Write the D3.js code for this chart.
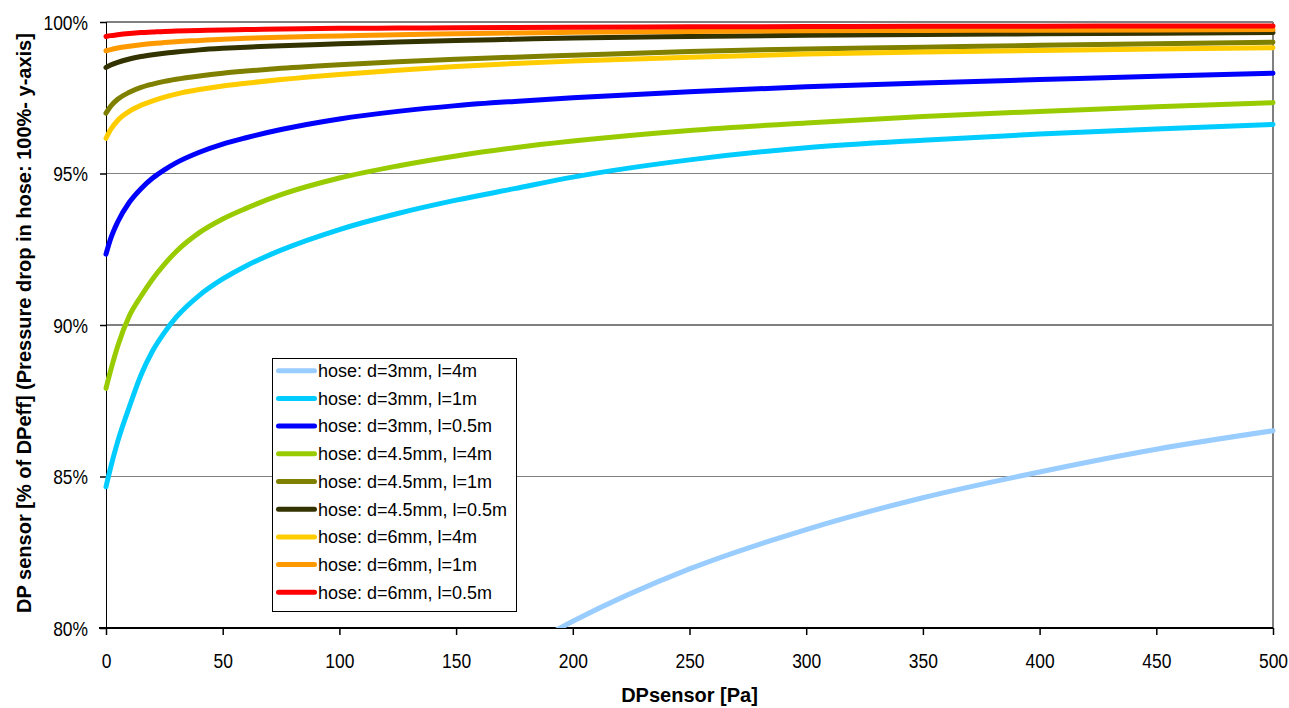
<!DOCTYPE html>
<html>
<head>
<meta charset="utf-8">
<script src="https://cdn.jsdelivr.net/npm/d3@7"></script>
<style>
	body { margin: 0; background: #fff; }
	svg text { font-family: "Liberation Sans", Arial, sans-serif; fill: #000; }
</style>
</head>
<body>
<div id="chart"></div>
<script>
// x values of the sampled points (DPsensor in Pa)
var xValues = [0, 2, 5, 10, 15, 20, 25, 30, 40, 50, 60, 75, 100, 125, 150, 175, 200, 250, 300, 350, 400, 450, 500];

var seriesNames = [
	"hose: d=3mm, l=4m",
	"hose: d=3mm, l=1m",
	"hose: d=3mm, l=0.5m",
	"hose: d=4.5mm, l=4m",
	"hose: d=4.5mm, l=1m",
	"hose: d=4.5mm, l=0.5m",
	"hose: d=6mm, l=4m",
	"hose: d=6mm, l=1m",
	"hose: d=6mm, l=0.5m"
];
var seriesColors = ["#99ccff", "#00ccff", "#0000ff", "#99cc00", "#808000", "#333300", "#ffcc00", "#ff9900", "#ff0000"];

// % of DPeff, one list per hose (null = off the chart, below 80%)
var d3mm4m   = [null, null, null, null, null, null, null, null, null, null, null, null, null, null, 78.0, 79.15, 80.22, 81.95, 83.25, 84.3, 85.15, 85.9, 86.51];
var d3mm1m   = [84.66, 85.3, 86.15, 87.3, 88.35, 89.15, 89.75, 90.25, 90.98, 91.52, 91.95, 92.47, 93.15, 93.68, 94.12, 94.5, 94.88, 95.45, 95.85, 96.1, 96.3, 96.47, 96.62];
var d3mm05m  = [92.34, 92.85, 93.4, 94.05, 94.5, 94.85, 95.12, 95.35, 95.7, 95.97, 96.18, 96.45, 96.8, 97.05, 97.24, 97.38, 97.5, 97.7, 97.86, 97.99, 98.1, 98.21, 98.31];
var d45mm4m  = [87.91, 88.5, 89.3, 90.3, 90.95, 91.52, 92.0, 92.42, 93.05, 93.5, 93.85, 94.3, 94.85, 95.25, 95.58, 95.85, 96.07, 96.42, 96.67, 96.88, 97.05, 97.2, 97.34];
var d45mm1m  = [96.99, 97.22, 97.45, 97.68, 97.84, 97.95, 98.04, 98.11, 98.22, 98.31, 98.38, 98.47, 98.59, 98.69, 98.77, 98.84, 98.9, 99.03, 99.11, 99.17, 99.23, 99.28, 99.33];
var d45mm05m = [98.5, 98.58, 98.67, 98.78, 98.86, 98.92, 98.97, 99.01, 99.08, 99.13, 99.17, 99.22, 99.28, 99.34, 99.39, 99.43, 99.47, 99.52, 99.56, 99.59, 99.61, 99.63, 99.65];
var d6mm4m   = [96.16, 96.45, 96.75, 97.05, 97.25, 97.4, 97.52, 97.62, 97.77, 97.89, 97.98, 98.1, 98.27, 98.41, 98.53, 98.63, 98.71, 98.84, 98.94, 99.01, 99.06, 99.11, 99.15];
var d6mm1m   = [99.05, 99.09, 99.14, 99.2, 99.25, 99.29, 99.32, 99.35, 99.39, 99.43, 99.46, 99.5, 99.54, 99.58, 99.61, 99.64, 99.66, 99.69, 99.71, 99.72, 99.73, 99.74, 99.75];
var d6mm05m  = [99.52, 99.55, 99.58, 99.62, 99.65, 99.67, 99.69, 99.7, 99.72, 99.74, 99.75, 99.77, 99.79, 99.8, 99.81, 99.82, 99.83, 99.84, 99.85, 99.86, 99.86, 99.87, 99.87];

var seriesValues = [d3mm4m, d3mm1m, d3mm05m, d45mm4m, d45mm1m, d45mm05m, d6mm4m, d6mm1m, d6mm05m];

var xTicks = [0, 50, 100, 150, 200, 250, 300, 350, 400, 450, 500];
var yTicks = [80, 85, 90, 95, 100];

/////////////////

var width = 1289;
var height = 708;
var plot = { left: 106, right: 1273, top: 22, bottom: 628 };
var labelSquash = 0.85;

var svg = d3.select("#chart")
			.append("svg")
			.attr("width", width)
			.attr("height", height);

var x = d3.scaleLinear().domain([0, 500]).range([plot.left, plot.right]);
var y = d3.scaleLinear().domain([80, 100]).range([plot.bottom, plot.top]);

svg.append("clipPath")
	.attr("id", "plotclip")
	.append("rect")
	.attr("x", plot.left - 4)
	.attr("y", plot.top - 4)
	.attr("width", plot.right - plot.left + 8)
	.attr("height", plot.bottom - plot.top + 4);

// gridlines (gray) and right border
svg.append("g")
	.selectAll("line")
	.data(yTicks.filter(function(d) { return d > 80; }))
	.enter()
		.append("line")
		.attr("x1", plot.left)
		.attr("x2", plot.right)
		.attr("y1", function(d) { return y(d); })
		.attr("y2", function(d) { return y(d); })
		.attr("stroke", "#808080")
		.attr("stroke-width", 1.5)
		.attr("shape-rendering", "crispEdges");

svg.append("line")
	.attr("x1", plot.right).attr("x2", plot.right)
	.attr("y1", plot.top).attr("y2", plot.bottom)
	.attr("stroke", "#808080")
	.attr("stroke-width", 1.5)
	.attr("shape-rendering", "crispEdges");

// axes
var yAxis = svg.append("g")
	.attr("transform", "translate(" + plot.left + ",0)")
	.call(d3.axisLeft(y).tickValues(yTicks).tickSize(6)
		.tickFormat(function(d) { return d + "%"; }));

var xAxis = svg.append("g")
	.attr("transform", "translate(0," + plot.bottom + ")")
	.call(d3.axisBottom(x).tickValues(xTicks).tickSize(7).tickPadding(18));

[yAxis, xAxis].forEach(function(a) {
	a.selectAll("text")
		.style("font-size", "20.5px")
		.attr("fill", "#000");
	a.selectAll("line, path").attr("stroke", "#000").attr("stroke-width", 1.5);
	a.select(".domain").attr("shape-rendering", "crispEdges");
});
// labels in the original are a little narrow
yAxis.selectAll("text")
	.attr("x", -18 / labelSquash)
	.attr("dy", "0.36em")
	.attr("transform", "scale(" + labelSquash + ",1)");
xAxis.selectAll("text")
	.attr("transform", "scale(" + labelSquash + ",1)");
xAxis.select(".domain").attr("d", "M" + (plot.left - 7) + ",0H" + plot.right);

// curves
var line = d3.line()
	.defined(function(d) { return d.v !== null; })
	.x(function(d) { return x(d.x); })
	.y(function(d) { return y(d.v); })
	.curve(d3.curveMonotoneX);

svg.append("g")
	.attr("clip-path", "url(#plotclip)")
	.selectAll(".curve")
	.data(seriesValues)
	.enter()
		.append("path")
		.attr("class", "curve")
		.attr("fill", "none")
		.attr("stroke", function(d, i) { return seriesColors[i]; })
		.attr("stroke-width", 5)
		.attr("stroke-linecap", "round")
		.attr("stroke-linejoin", "round")
		.attr("d", function(vals) {
			return line(vals.map(function(v, i) { return { x: xValues[i], v: v }; }));
		});

// legend
var legend = svg.append("g").attr("transform", "translate(272.5,358.5)");
legend.append("rect")
	.attr("width", 244)
	.attr("height", 253)
	.attr("fill", "#fff")
	.attr("stroke", "#000")
	.attr("stroke-width", 1);

var item = legend.selectAll(".item")
	.data(seriesNames)
	.enter()
		.append("g")
		.attr("transform", function(d, i) { return "translate(0," + (12.2 + i * 27.7) + ")"; });

item.append("line")
	.attr("x1", 6).attr("x2", 42)
	.attr("stroke", function(d, i) { return seriesColors[i]; })
	.attr("stroke-width", 5)
	.attr("stroke-linecap", "round");

item.append("text")
	.attr("x", 45.5)
	.attr("dy", "0.35em")
	.style("font-size", "18px")
	.text(function(d) { return d; });

// axis titles
svg.append("text")
	.attr("x", (plot.left + plot.right) / 2)
	.attr("y", 702)
	.attr("text-anchor", "middle")
	.style("font-size", "20px")
	.style("font-weight", "bold")
	.text("DPsensor [Pa]");

svg.append("text")
	.attr("transform", "translate(31," + 323 + ") rotate(-90)")
	.attr("text-anchor", "middle")
	.style("font-size", "20px")
	.style("font-weight", "bold")
	.text("DP sensor [% of DPeff] (Pressure drop in hose: 100%- y-axis]");
</script>
</body>
</html>
